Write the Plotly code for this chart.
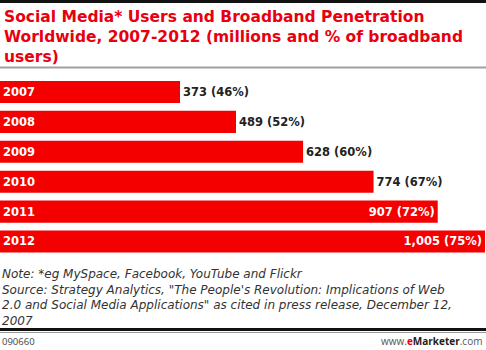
import plotly.graph_objects as go

# Social media users (millions) and share of broadband users (%)
years = ["2007", "2008", "2009", "2010", "2011", "2012"]
users = [373, 489, 628, 774, 907, 1005]
share = [46, 52, 60, 67, 72, 75]

title_lines = [
    "Social Media* Users and Broadband Penetration",
    "Worldwide, 2007-2012 (millions and % of broadband",
    "users)",
]
note_lines = [
    "Note: *eg MySpace, Facebook, YouTube and Flickr",
    "Source: Strategy Analytics, \"The People's Revolution: Implications of Web",
    "2.0 and Social Media Applications\" as cited in press release, December 12,",
    "2007",
]
chart_id = "090660"

RED = "#f40000"
TITLE_RED = "#e8000e"
BOLD = "DejaVu Sans"

labels = [f"{u:,} ({s}%)" for u, s in zip(users, share)]
positions = ["outside"] * 4 + ["inside"] * 2

fig = go.Figure(
    go.Bar(
        x=users,
        y=years,
        orientation="h",
        marker=dict(color=RED, line=dict(width=0)),
        text=labels,
        textposition=positions,
        insidetextanchor="end",
        textangle=0,
        constraintext="none",
        cliponaxis=False,
        textfont=dict(family=BOLD, size=11.5, weight="bold"),
        insidetextfont=dict(family=BOLD, size=11.5, color="white", weight="bold"),
        outsidetextfont=dict(family=BOLD, size=11.5, color="#222222", weight="bold"),
        hoverinfo="skip",
    )
)

W, H = 486, 350
fig.update_layout(
    width=W,
    height=H,
    margin=dict(l=0, r=0, t=0, b=0),
    paper_bgcolor="white",
    plot_bgcolor="white",
    showlegend=False,
    bargap=0.26,
    xaxis=dict(range=[0, 1007], visible=False, fixedrange=True, domain=[0, 1]),
    yaxis=dict(
        type="category",
        categoryorder="array",
        categoryarray=years,
        range=[5.5, -0.5],
        domain=[1 - 256.4 / H, 1 - 77.1 / H],
        showgrid=False,
        zeroline=False,
        showline=False,
        ticks="",
        ticklabelposition="inside",
        tickfont=dict(family=BOLD, size=11.5, color="white", weight="bold"),
        fixedrange=True,
    ),
)

def py(px):
    return 1 - px / H

shapes = [
    # top border
    dict(type="rect", xref="paper", yref="paper", x0=0, x1=1, y0=py(3), y1=1,
         fillcolor="#111111", line=dict(width=0), layer="above"),
    # rule under the title
    dict(type="line", xref="paper", yref="paper", x0=0, x1=1, y0=py(67.5), y1=py(67.5),
         line=dict(color="#a0a0a0", width=2)),
    # footer rules
    dict(type="line", xref="paper", yref="paper", x0=0, x1=1, y0=py(329.5), y1=py(329.5),
         line=dict(color="#111111", width=3)),
    dict(type="line", xref="paper", yref="paper", x0=0, x1=1, y0=py(332.5), y1=py(332.5),
         line=dict(color="#9a9a9a", width=1)),
]

annotations = [
    dict(
        text="<br>".join(title_lines), xref="paper", yref="paper", x=0.004, y=py(6),
        xanchor="left", yanchor="top", align="left", showarrow=False,
        font=dict(family=BOLD, size=15.5, color=TITLE_RED, weight="bold"),
    ),
    dict(
        text="<br>".join(note_lines), xref="paper", yref="paper", x=0.0, y=py(265),
        xanchor="left", yanchor="top", align="left", showarrow=False,
        font=dict(family="DejaVu Sans", size=12, color="#333333", style="italic"),
    ),
    dict(
        text=chart_id, xref="paper", yref="paper", x=0.0, y=py(341),
        xanchor="left", yanchor="middle", showarrow=False,
        font=dict(family="Open Sans", size=9.5, color="#444444"),
    ),
    dict(
        text="www.<b><span style='color:#e8000e'>e</span><span style='color:#222222'>Marketer</span></b>.com",
        xref="paper", yref="paper", x=0.996, y=py(341),
        xanchor="right", yanchor="middle", showarrow=False,
        font=dict(family="Open Sans", size=10, color="#555555"),
    ),
]

fig.update_layout(shapes=shapes, annotations=annotations)
fig.write_html("out.html")
